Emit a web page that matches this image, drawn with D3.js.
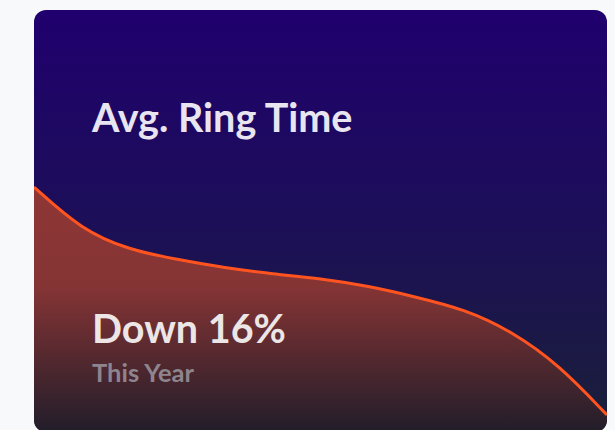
<!DOCTYPE html>
<html>
<head>
<meta charset="utf-8">
<script src="https://cdn.jsdelivr.net/npm/d3@7"></script>
<style>
  html, body { margin: 0; padding: 0; background: #f7f9fb; }
  svg { display: block; }
</style>
</head>
<body>
<div id="chart"></div>
<script>
// data: ring time trend over the year (month index 0..12)
const monthIndex = [0, 1, 2, 3, 4, 5, 6, 7, 8, 9, 10, 11, 12];
const ringTime = [24.3, 20.0, 18.0, 17.05, 16.2, 15.6, 15.15, 14.4, 13.3, 12.1, 9.9, 6.5, 1.5];
const title = "Avg. Ring Time";
const headline = "Down 16%";
const subline = "This Year";

const width = 615, height = 430;
const card = { x: 34, y: 10, w: 573, h: 422, r: 12 };

const svg = d3.select("#chart").append("svg")
    .attr("width", width)
    .attr("height", height);

const defs = svg.append("defs");

// background gradient of the card
const bg = defs.append("linearGradient")
    .attr("id", "bgGrad")
    .attr("x1", 0).attr("y1", 0).attr("x2", 0).attr("y2", 1);
bg.append("stop").attr("offset", "0%").attr("stop-color", "#20006e");
bg.append("stop").attr("offset", "50%").attr("stop-color", "#1c0f58");
bg.append("stop").attr("offset", "100%").attr("stop-color", "#1a1f39");

// area fill gradient
const ag = defs.append("linearGradient")
    .attr("id", "areaGrad")
    .attr("gradientUnits", "userSpaceOnUse")
    .attr("x1", 0).attr("y1", 190).attr("x2", 0).attr("y2", 432);
ag.append("stop").attr("offset", "0%").attr("stop-color", "#8f3636");
ag.append("stop").attr("offset", "40%").attr("stop-color", "#853434");
ag.append("stop").attr("offset", "100%").attr("stop-color", "#211d2a");

defs.append("clipPath").attr("id", "cardClip")
  .append("rect")
    .attr("x", card.x).attr("y", card.y)
    .attr("width", card.w).attr("height", card.h)
    .attr("rx", card.r);

const g = svg.append("g").attr("clip-path", "url(#cardClip)");

g.append("rect")
    .attr("x", card.x).attr("y", card.y)
    .attr("width", card.w).attr("height", card.h)
    .attr("fill", "url(#bgGrad)");

const x = d3.scaleLinear()
    .domain([0, 12])
    .range([card.x, card.x + card.w]);

const y = d3.scaleLinear()
    .domain([0, 42])
    .range([430, 10]);

const data = monthIndex.map((m, i) => ({ m: m, v: ringTime[i] }));

const area = d3.area()
    .x(d => x(d.m))
    .y0(card.y + card.h)
    .y1(d => y(d.v))
    .curve(d3.curveBasis);

const line = d3.line()
    .x(d => x(d.m))
    .y(d => y(d.v))
    .curve(d3.curveBasis);

g.append("path")
    .datum(data)
    .attr("d", area)
    .attr("fill", "url(#areaGrad)");

g.append("path")
    .datum(data)
    .attr("d", line)
    .attr("fill", "none")
    .attr("stroke", "#ff5420")
    .attr("stroke-width", 3);

// texts
g.append("text")
    .attr("x", 92).attr("y", 132)
    .attr("font-family", "Lato, sans-serif")
    .attr("font-weight", 700)
    .attr("font-size", 39.5)
    .attr("fill", "#e9e5f0")
    .text(title);

g.append("text")
    .attr("x", 92).attr("y", 343)
    .attr("font-family", "Lato, sans-serif")
    .attr("font-weight", 700)
    .attr("font-size", 39.5)
    .attr("fill", "#ede6e6")
    .text(headline);

g.append("text")
    .attr("x", 92).attr("y", 382)
    .attr("font-family", "Lato, sans-serif")
    .attr("font-weight", 700)
    .attr("font-size", 25.5)
    .attr("fill", "#8e848e")
    .text(subline);
</script>
</body>
</html>
